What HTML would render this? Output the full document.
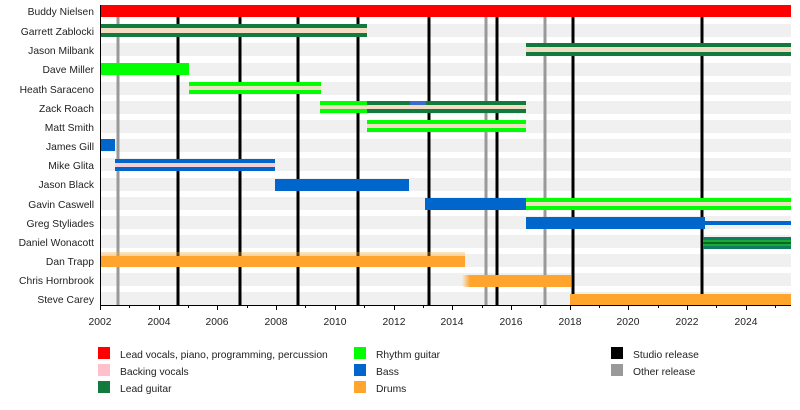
<!DOCTYPE html>
<html><head><meta charset="utf-8"><style>
html,body{margin:0;padding:0;background:#fff;}
svg text{font-family:"Liberation Sans",sans-serif;font-size:10.3px;fill:#222;}
</style></head><body>
<svg width="800" height="405" viewBox="0 0 800 405" xmlns="http://www.w3.org/2000/svg">
<defs>
<linearGradient id="fadeL" x1="0" x2="1" y1="0" y2="0"><stop offset="0" stop-color="#ffa52d" stop-opacity="0"/><stop offset="1" stop-color="#ffa52d"/></linearGradient>
</defs>
<g fill="#f0f0f0">
<rect x="100" y="24" width="691" height="13"/>
<rect x="100" y="43" width="691" height="13"/>
<rect x="100" y="63" width="691" height="13"/>
<rect x="100" y="82" width="691" height="13"/>
<rect x="100" y="101" width="691" height="13"/>
<rect x="100" y="120" width="691" height="13"/>
<rect x="100" y="139" width="691" height="13"/>
<rect x="100" y="158" width="691" height="13"/>
<rect x="100" y="178" width="691" height="13"/>
<rect x="100" y="197" width="691" height="13"/>
<rect x="100" y="216" width="691" height="13"/>
<rect x="100" y="235" width="691" height="13"/>
<rect x="100" y="254" width="691" height="13"/>
<rect x="100" y="273" width="691" height="13"/>
<rect x="100" y="292" width="691" height="13"/>
</g>
<g stroke="#999" stroke-width="3">
<line x1="118" y1="17" x2="118" y2="305"/><line x1="486" y1="17" x2="486" y2="305"/><line x1="545" y1="17" x2="545" y2="305"/>
</g>
<g stroke="#000" stroke-width="3">
<line x1="178" y1="17" x2="178" y2="305"/><line x1="240" y1="17" x2="240" y2="305"/><line x1="298" y1="17" x2="298" y2="305"/><line x1="358" y1="17" x2="358" y2="305"/><line x1="429" y1="17" x2="429" y2="305"/><line x1="497" y1="17" x2="497" y2="305"/><line x1="573" y1="17" x2="573" y2="305"/><line x1="702" y1="17" x2="702" y2="305"/>
</g>
<rect x="100" y="5" width="691" height="12" fill="#ff0000"/>
<rect x="100" y="24" width="267" height="13" fill="#117a3c"/><rect x="100" y="28" width="267" height="5" fill="#f2dcc4"/>
<rect x="526" y="43" width="265" height="13" fill="#117a3c"/><rect x="526" y="47" width="265" height="5" fill="#f2dcc4"/>
<rect x="100" y="63" width="89" height="12" fill="#00ff00"/>
<rect x="189" y="82" width="132" height="12" fill="#00ff00"/><rect x="189" y="86" width="132" height="4" fill="#f2dcc4"/>
<rect x="320" y="101" width="47" height="12" fill="#00ff00"/><rect x="367" y="101" width="159" height="12" fill="#117a3c"/><rect x="320" y="105" width="206" height="4" fill="#f2dcc4"/><rect x="410" y="101" width="16" height="4" fill="#3b6cc9"/>
<rect x="367" y="120" width="159" height="12" fill="#00ff00"/><rect x="367" y="124" width="159" height="4" fill="#f2dcc4"/>
<rect x="100" y="139" width="15" height="12" fill="#0066cc"/>
<rect x="115" y="159" width="160" height="12" fill="#0066cc"/><rect x="115" y="163" width="160" height="4" fill="#f9ccd4"/>
<rect x="275" y="179" width="134" height="12" fill="#0066cc"/>
<rect x="425" y="198" width="101" height="12" fill="#0066cc"/>
<rect x="526" y="198" width="265" height="12" fill="#00ff00"/><rect x="526" y="202" width="265" height="4" fill="#f2dcc4"/>
<rect x="526" y="217" width="179" height="12" fill="#0066cc"/><rect x="705" y="221" width="86" height="4" fill="#0066cc"/>
<rect x="703" y="237" width="88" height="12" fill="#127a5e"/><rect x="703" y="240" width="88" height="6" fill="#1aa83a"/><rect x="703" y="242" width="88" height="2" fill="#0a6a20"/>
<rect x="100" y="252" width="365" height="4" fill="#ffa52d" opacity="0.35"/>
<rect x="100" y="256" width="365" height="11" fill="#ffa52d"/>
<rect x="462" y="275" width="8" height="12" fill="url(#fadeL)"/><rect x="470" y="275" width="101" height="12" fill="#ffa52d"/>
<rect x="570" y="294" width="221" height="12" fill="#ffa52d"/>
<line x1="100.5" y1="5" x2="100.5" y2="306" stroke="#000" stroke-width="1"/>
<line x1="100" y1="305.5" x2="791" y2="305.5" stroke="#000" stroke-width="1"/>
<g stroke="#000" stroke-width="1">
<line x1="100.5" y1="305" x2="100.5" y2="310"/><line x1="129.5" y1="305" x2="129.5" y2="308"/><line x1="159.5" y1="305" x2="159.5" y2="310"/><line x1="188.5" y1="305" x2="188.5" y2="308"/><line x1="217.5" y1="305" x2="217.5" y2="310"/><line x1="247.5" y1="305" x2="247.5" y2="308"/><line x1="276.5" y1="305" x2="276.5" y2="310"/><line x1="305.5" y1="305" x2="305.5" y2="308"/><line x1="335.5" y1="305" x2="335.5" y2="310"/><line x1="364.5" y1="305" x2="364.5" y2="308"/><line x1="394.5" y1="305" x2="394.5" y2="310"/><line x1="423.5" y1="305" x2="423.5" y2="308"/><line x1="452.5" y1="305" x2="452.5" y2="310"/><line x1="482.5" y1="305" x2="482.5" y2="308"/><line x1="511.5" y1="305" x2="511.5" y2="310"/><line x1="540.5" y1="305" x2="540.5" y2="308"/><line x1="570.5" y1="305" x2="570.5" y2="310"/><line x1="599.5" y1="305" x2="599.5" y2="308"/><line x1="628.5" y1="305" x2="628.5" y2="310"/><line x1="658.5" y1="305" x2="658.5" y2="308"/><line x1="687.5" y1="305" x2="687.5" y2="310"/><line x1="716.5" y1="305" x2="716.5" y2="308"/><line x1="746.5" y1="305" x2="746.5" y2="310"/><line x1="775.5" y1="305" x2="775.5" y2="308"/>
</g>
<g text-anchor="middle">
<text x="100" y="325">2002</text><text x="159" y="325">2004</text><text x="217" y="325">2006</text><text x="276" y="325">2008</text><text x="335" y="325">2010</text><text x="394" y="325">2012</text><text x="452" y="325">2014</text><text x="511" y="325">2016</text><text x="570" y="325">2018</text><text x="628" y="325">2020</text><text x="687" y="325">2022</text><text x="746" y="325">2024</text>
</g>
<g text-anchor="end">
<text x="94" y="15">Buddy Nielsen</text>
<text x="94" y="35">Garrett Zablocki</text>
<text x="94" y="54">Jason Milbank</text>
<text x="94" y="73">Dave Miller</text>
<text x="94" y="93">Heath Saraceno</text>
<text x="94" y="112">Zack Roach</text>
<text x="94" y="131">Matt Smith</text>
<text x="94" y="150">James Gill</text>
<text x="94" y="169">Mike Glita</text>
<text x="94" y="188">Jason Black</text>
<text x="94" y="208">Gavin Caswell</text>
<text x="94" y="227">Greg Styliades</text>
<text x="94" y="246">Daniel Wonacott</text>
<text x="94" y="265">Dan Trapp</text>
<text x="94" y="284">Chris Hornbrook</text>
<text x="94" y="303">Steve Carey</text>
</g>
<rect x="98" y="347" width="12" height="12" fill="#ff0000"/><text x="120" y="358">Lead vocals, piano, programming, percussion</text>
<rect x="98" y="364" width="12" height="12" fill="#ffc0cb"/><text x="120" y="375">Backing vocals</text>
<rect x="98" y="381" width="12" height="12" fill="#117a3c"/><text x="120" y="392">Lead guitar</text>
<rect x="354" y="347" width="12" height="12" fill="#00ff00"/><text x="376" y="358">Rhythm guitar</text>
<rect x="354" y="364" width="12" height="12" fill="#0066cc"/><text x="376" y="375">Bass</text>
<rect x="354" y="381" width="12" height="12" fill="#ffa52d"/><text x="376" y="392">Drums</text>
<rect x="611" y="347" width="12" height="12" fill="#000"/><text x="633" y="358">Studio release</text>
<rect x="611" y="364" width="12" height="12" fill="#999"/><text x="633" y="375">Other release</text>
</svg>
</body></html>
